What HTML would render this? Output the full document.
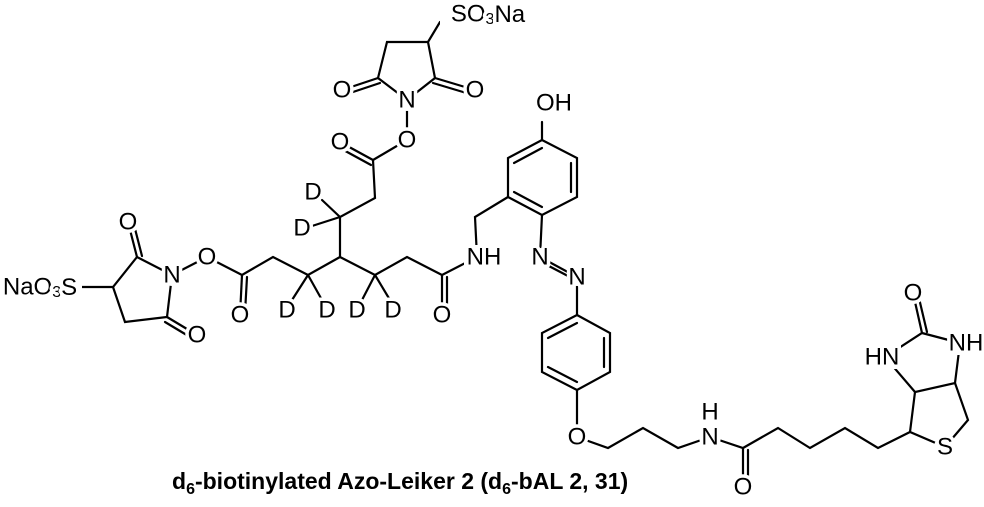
<!DOCTYPE html>
<html><head><meta charset="utf-8"><style>
html,body{margin:0;padding:0;background:#fff}
svg{display:block}
text{font-family:"Liberation Sans",Arial,sans-serif;font-size:24px;fill:#000;stroke:#fff;stroke-width:7px;paint-order:stroke;stroke-linejoin:round}
.c{font-weight:bold;font-size:23px;stroke-width:0}
</style></head><body>
<svg width="984" height="507" viewBox="0 0 984 507" xmlns="http://www.w3.org/2000/svg">
<g stroke="#000" stroke-width="2.2" fill="none" stroke-linecap="round">
<polyline points="440,22 428,42 387,42 378,78 407,100 435,78 428,42"/>
<line x1="378" y1="78" x2="342" y2="90"/><line x1="380" y1="83" x2="344" y2="95"/>
<line x1="435" y1="78" x2="475" y2="90"/><line x1="433" y1="83" x2="473" y2="95"/>
<polyline points="407,100 407,140 373,160 375,198 340,217 340,257"/>
<line x1="373" y1="160" x2="340" y2="142"/><line x1="371" y1="165" x2="338" y2="147"/>
<line x1="340" y1="217" x2="322" y2="200"/><line x1="340" y1="217" x2="312" y2="226"/>
<polyline points="340,257 308,275 273,257 242,275 207,257 172,275 137,257 113,287 80,287"/>
<line x1="308" y1="275" x2="292" y2="300"/><line x1="308" y1="275" x2="322" y2="300"/>
<line x1="242" y1="275" x2="240" y2="315"/><line x1="247" y1="277" x2="245" y2="313"/>
<line x1="137" y1="257" x2="128" y2="222"/><line x1="142" y1="256" x2="133" y2="221"/>
<polyline points="113,287 125,322 167,317 172,275"/>
<line x1="167" y1="317" x2="197" y2="335"/><line x1="165" y1="322" x2="195" y2="340"/>
<polyline points="340,257 375,275 407,257 442,275 477,257 475,217 508,197"/>
<line x1="375" y1="275" x2="362" y2="300"/><line x1="375" y1="275" x2="390" y2="300"/>
<line x1="442" y1="275" x2="442" y2="315"/><line x1="447" y1="277" x2="447" y2="313"/>
<polygon points="542,140 577,158 577,197 542,215 508,197 508,158"/>
<line x1="542" y1="122" x2="542" y2="140"/>
<line x1="514" y1="163" x2="542" y2="148"/>
<line x1="571" y1="163" x2="571" y2="192"/>
<line x1="514" y1="192" x2="542" y2="207"/>
<polyline points="542,215 540,257 577,277 577,315"/>
<line x1="545" y1="264" x2="568" y2="276"/>
<polygon points="577,315 610,333 610,372 577,390 542,372 542,333"/>
<line x1="548" y1="338" x2="577" y2="323"/>
<line x1="604" y1="338" x2="604" y2="367"/>
<line x1="548" y1="367" x2="577" y2="382"/>
<polyline points="577,390 577,437 608,448 643,428 678,448 710,437 743,448 778,428 810,448 845,428 878,448 910,432 945,447 968,420 955,383 915,392 910,432"/>
<line x1="743" y1="448" x2="743" y2="487"/><line x1="748" y1="450" x2="748" y2="485"/>
<polyline points="915,392 885,357 922,333 960,343 955,383"/>
<line x1="922" y1="333" x2="913" y2="293"/><line x1="927" y1="332" x2="918" y2="294"/>
</g>
<g fill="#fff">
<circle cx="342" cy="90" r="11"/><circle cx="475" cy="90" r="11"/>
<circle cx="407" cy="100" r="11"/><circle cx="407" cy="140" r="11"/>
<circle cx="340" cy="142" r="11"/>
<circle cx="240" cy="315" r="11"/><circle cx="207" cy="257" r="11"/>
<circle cx="172" cy="275" r="11"/><circle cx="128" cy="222" r="11"/>
<circle cx="197" cy="335" r="11"/><circle cx="442" cy="315" r="11"/>
<circle cx="540" cy="257" r="9"/><circle cx="577" cy="277" r="9"/>
<circle cx="577" cy="437" r="11"/><circle cx="710" cy="437" r="11"/>
<circle cx="743" cy="487" r="11"/><circle cx="945" cy="447" r="11"/>
<circle cx="913" cy="293" r="11"/>
<rect x="464" y="245" width="38" height="24"/>
<rect x="863" y="345" width="38" height="24"/>
<rect x="948" y="331" width="36" height="24"/>
<rect x="0" y="275" width="82" height="24"/>
<rect x="440" y="2" width="100" height="26"/>
</g>
<g text-anchor="middle" dominant-baseline="central">
<text x="488" y="14">SO<tspan font-size="16" dy="5">3</tspan><tspan dy="-5">Na</tspan></text>
<text x="342" y="90">O</text><text x="475" y="90">O</text>
<text x="407" y="100">N</text><text x="407" y="140">O</text>
<text x="340" y="142">O</text>
<text x="313" y="192">D</text><text x="302" y="228">D</text>
<text x="287" y="310">D</text><text x="327" y="310">D</text>
<text x="357" y="310">D</text><text x="393" y="310">D</text>
<text x="240" y="315">O</text><text x="207" y="257">O</text>
<text x="172" y="275">N</text><text x="128" y="222">O</text>
<text x="197" y="335">O</text>
<text x="40" y="287">NaO<tspan font-size="16" dy="5">3</tspan><tspan dy="-5">S</tspan></text>
<text x="442" y="315">O</text>
<text x="484" y="257">NH</text>
<text x="554" y="103">OH</text>
<text x="540" y="257">N</text><text x="577" y="277">N</text>
<text x="577" y="437">O</text>
<text x="710" y="437">N</text><text x="710" y="412">H</text>
<text x="743" y="487">O</text>
<text x="945" y="447">S</text>
<text x="882" y="357">HN</text>
<text x="966" y="343">NH</text>
<text x="913" y="293">O</text>
</g>
<text class="c" x="172" y="489">d<tspan font-size="16" dy="5">6</tspan><tspan dy="-5">-biotinylated Azo-Leiker 2 (d</tspan><tspan font-size="16" dy="5">6</tspan><tspan dy="-5">-bAL 2, 31)</tspan></text>
</svg>
</body></html>
